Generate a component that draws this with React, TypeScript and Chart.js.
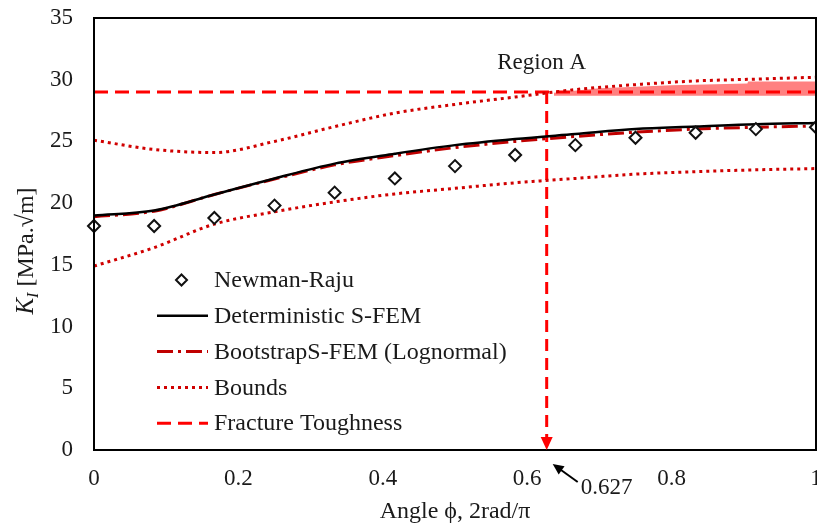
import React, { useEffect, useRef } from "react";
import { Chart, registerables } from "chart.js";

Chart.register(...registerables);

// ---- data ----
const angles = [0, 0.0833, 0.1667, 0.25, 0.3333, 0.4167, 0.5, 0.5833, 0.6667, 0.75, 0.8333, 0.9167, 1];
const newmanRaju = [18.15, 18.15, 18.8, 19.8, 20.85, 22.0, 23.0, 23.9, 24.7, 25.3, 25.7, 26.0, 26.15];
const deterministic = [19.0, 19.4, 20.7, 22.0, 23.2, 24.0, 24.7, 25.2, 25.6, 26.0, 26.2, 26.4, 26.5];
const bootstrap = [18.9, 19.35, 20.7, 21.95, 23.1, 23.85, 24.5, 25.0, 25.4, 25.75, 26.0, 26.15, 26.25];
const upperBound = [25.1, 24.35, 24.1, 25.0, 26.2, 27.3, 28.0, 28.6, 29.2, 29.6, 29.9, 30.05, 30.2];
const lowerBound = [14.9, 16.4, 18.3, 19.3, 20.1, 20.75, 21.2, 21.65, 22.0, 22.35, 22.55, 22.7, 22.8];
const toughnessX = [0, 1];
const toughness = [29, 29];
const criticalAngle = 0.627;
const criticalLine = [29, 0];
const shadeX = [0.637, 0.7, 0.8, 0.905, 0.906, 1];
const shadeTop = [28.95, 29.3, 29.55, 29.7, 29.85, 29.85];
const shadeBottom = [28.7, 28.7, 28.7, 28.7, 28.7, 28.7];
const xTicks = [0, 0.2, 0.4, 0.6, 0.8, 1];
const yTicks = [0, 5, 10, 15, 20, 25, 30, 35];
const regionLabel = "Region A";
const regionPos = { x: 0.62, y: 31.35 };

const FONT = "'Liberation Serif', 'Times New Roman', serif";
const TXT = "#1a1a1a";

const pts = (xs: number[], ys: number[]) => xs.map((x, i) => ({ x, y: ys[i] }));

const legendEntries = [
  { ds: 0, label: "Newman-Raju" },
  { ds: 1, label: "Deterministic S-FEM" },
  { ds: 2, label: "BootstrapS-FEM (Lognormal)" },
  { ds: 3, label: "Bounds" },
  { ds: 5, label: "Fracture Toughness" },
];

const overlayPlugin = {
  id: "overlay",
  afterDatasetsDraw(chart: any) {
    const { ctx, chartArea, scales } = chart;
    const xs = scales.x;
    const ys = scales.y;
    ctx.save();
    // frame
    ctx.strokeStyle = "#000";
    ctx.lineWidth = 2;
    ctx.setLineDash([]);
    ctx.strokeRect(chartArea.left, chartArea.top, chartArea.right - chartArea.left, chartArea.bottom - chartArea.top);

    // arrowhead at critical angle
    const px = xs.getPixelForValue(criticalAngle);
    const py = ys.getPixelForValue(0);
    ctx.fillStyle = "#ff0000";
    ctx.beginPath();
    ctx.moveTo(px, py);
    ctx.lineTo(px - 6, py - 13);
    ctx.lineTo(px + 6, py - 13);
    ctx.closePath();
    ctx.fill();

    // black arrow + label 0.627
    ctx.strokeStyle = "#000";
    ctx.fillStyle = "#000";
    ctx.lineWidth = 2;
    const tipX = px + 6, tipY = py + 14;
    const tailX = px + 31, tailY = py + 32;
    const ang = Math.atan2(tipY - tailY, tipX - tailX);
    ctx.beginPath();
    ctx.moveTo(tailX, tailY);
    ctx.lineTo(tipX - 6 * Math.cos(ang), tipY - 6 * Math.sin(ang));
    ctx.stroke();
    ctx.beginPath();
    ctx.moveTo(tipX, tipY);
    ctx.lineTo(tipX - 11 * Math.cos(ang) + 5 * Math.sin(ang), tipY - 11 * Math.sin(ang) - 5 * Math.cos(ang));
    ctx.lineTo(tipX - 11 * Math.cos(ang) - 5 * Math.sin(ang), tipY - 11 * Math.sin(ang) + 5 * Math.cos(ang));
    ctx.closePath();
    ctx.fill();
    ctx.fillStyle = TXT;
    ctx.font = `23px ${FONT}`;
    ctx.textAlign = "left";
    ctx.textBaseline = "middle";
    ctx.fillText(String(criticalAngle), px + 34, py + 38);

    // Region A
    ctx.textAlign = "center";
    ctx.fillText(regionLabel, xs.getPixelForValue(regionPos.x), ys.getPixelForValue(regionPos.y));

    // legend
    const ds = chart.data.datasets;
    const x0 = 157, x1 = 208, tx = 214;
    let y = 280;
    ctx.font = `24px ${FONT}`;
    ctx.textAlign = "left";
    ctx.textBaseline = "middle";
    for (const e of legendEntries) {
      const d = ds[e.ds];
      if (e.ds === 0) {
        const cx = (x0 + x1) / 2 - 1;
        ctx.strokeStyle = d.pointBorderColor;
        ctx.fillStyle = "#fff";
        ctx.lineWidth = 2;
        ctx.setLineDash([]);
        const r = 5.5;
        ctx.beginPath();
        ctx.moveTo(cx, y - r);
        ctx.lineTo(cx + r, y);
        ctx.lineTo(cx, y + r);
        ctx.lineTo(cx - r, y);
        ctx.closePath();
        ctx.fill();
        ctx.stroke();
      } else {
        ctx.strokeStyle = d.borderColor;
        ctx.lineWidth = d.borderWidth;
        ctx.setLineDash(d.borderDash || []);
        ctx.lineCap = "butt";
        ctx.beginPath();
        ctx.moveTo(x0, y);
        ctx.lineTo(x1, y);
        ctx.stroke();
      }
      ctx.setLineDash([]);
      ctx.fillStyle = TXT;
      ctx.fillText(e.label, tx, y + 1);
      y += 35.8;
    }

    // y-axis title
    ctx.save();
    ctx.translate(25, 251);
    ctx.rotate(-Math.PI / 2);
    const kFont = `italic 25px ${FONT}`;
    const iFont = `italic 16px ${FONT}`;
    const rFont = `24px ${FONT}`;
    const rest = " [MPa.\u221Am]";
    ctx.font = kFont; const wK = ctx.measureText("K").width;
    ctx.font = iFont; const wI = ctx.measureText("I").width;
    ctx.font = rFont; const wR = ctx.measureText(rest).width;
    let sx = -(wK + wI + wR) / 2;
    ctx.textAlign = "left";
    ctx.textBaseline = "alphabetic";
    ctx.fillStyle = TXT;
    ctx.font = kFont; ctx.fillText("K", sx, 8); sx += wK;
    ctx.font = iFont; ctx.fillText("I", sx, 13); sx += wI;
    ctx.font = rFont; ctx.fillText(rest, sx, 8);
    ctx.restore();

    // x-axis title
    ctx.font = `24px ${FONT}`;
    ctx.textAlign = "center";
    ctx.textBaseline = "middle";
    ctx.fillStyle = TXT;
    ctx.fillText("Angle \u03D5, 2rad/\u03C0", 455, 512);

    ctx.restore();
  },
};

export default function App() {
  const ref = useRef<HTMLCanvasElement | null>(null);
  useEffect(() => {
    document.body.style.margin = "0";
    document.body.style.overflow = "hidden";
    const canvas = ref.current!;
    const chart = new Chart(canvas, {
      type: "line",
      data: {
        datasets: [
          {
            label: "Newman-Raju",
            data: pts(angles, newmanRaju),
            showLine: false,
            pointStyle: "rectRot",
            pointRadius: 6,
            pointBorderWidth: 2,
            pointBorderColor: "#111",
            pointBackgroundColor: "#fff",
            borderColor: "#111",
            clip: false,
          } as any,
          {
            label: "Deterministic S-FEM",
            data: pts(angles, deterministic),
            borderColor: "#000",
            borderWidth: 2.5,
            pointRadius: 0,
            cubicInterpolationMode: "monotone",
          },
          {
            label: "BootstrapS-FEM (Lognormal)",
            data: pts(angles, bootstrap),
            borderColor: "#c00000",
            borderWidth: 3,
            borderDash: [16, 5, 3, 5],
            pointRadius: 0,
            cubicInterpolationMode: "monotone",
          },
          {
            label: "Bounds",
            data: pts(angles, upperBound),
            borderColor: "#d00000",
            borderWidth: 3,
            borderDash: [3, 4],
            pointRadius: 0,
            cubicInterpolationMode: "monotone",
          },
          {
            label: "Bounds (lower)",
            data: pts(angles, lowerBound),
            borderColor: "#d00000",
            borderWidth: 3,
            borderDash: [3, 4],
            pointRadius: 0,
            cubicInterpolationMode: "monotone",
          },
          {
            label: "Fracture Toughness",
            data: pts(toughnessX, toughness),
            borderColor: "#ff0000",
            borderWidth: 3,
            borderDash: [14, 7],
            pointRadius: 0,
          },
          {
            label: "critical",
            data: criticalLine.map((y) => ({ x: criticalAngle, y })),
            borderColor: "#ff0000",
            borderWidth: 3,
            borderDash: [12, 7],
            pointRadius: 0,
          },
          {
            label: "Region A top",
            data: pts(shadeX, shadeTop),
            borderWidth: 0,
            borderColor: "rgba(0,0,0,0)",
            backgroundColor: "#ff8080",
            pointRadius: 0,
            fill: "+1",
          },
          {
            label: "Region A bottom",
            data: pts(shadeX, shadeBottom),
            borderWidth: 0,
            borderColor: "rgba(0,0,0,0)",
            pointRadius: 0,
          },
        ],
      },
      options: {
        responsive: false,
        animation: false,
        layout: { padding: { left: 0, right: 14, top: 18, bottom: 0 } },
        plugins: {
          legend: { display: false },
          tooltip: { enabled: false },
          title: { display: false },
        },
        scales: {
          x: {
            type: "linear",
            min: 0,
            max: 1,
            grid: { display: false, drawTicks: false },
            border: { display: false },
            afterBuildTicks: (s: any) => {
              s.ticks = xTicks.map((v) => ({ value: v }));
            },
            afterFit: (s: any) => {
              s.height = 77;
              s.paddingLeft = 0;
              s.paddingRight = 0;
            },
            ticks: {
              padding: 15,
              color: TXT,
              font: { family: FONT, size: 23 },
              maxRotation: 0,
              callback: (v: any) => String(v),
            },
          },
          y: {
            type: "linear",
            min: 0,
            max: 35,
            grid: { display: false, drawTicks: false },
            border: { display: false },
            afterBuildTicks: (s: any) => {
              s.ticks = yTicks.map((v) => ({ value: v }));
            },
            afterFit: (s: any) => {
              s.width = 94;
              s.paddingTop = 0;
              s.paddingBottom = 0;
            },
            ticks: {
              padding: 21,
              color: TXT,
              font: { family: FONT, size: 23 },
              callback: (v: any) => String(v),
            },
          },
        },
      },
      plugins: [overlayPlugin],
    });
    return () => chart.destroy();
  }, []);
  return (
    <div style={{ width: 817, height: 527, overflow: "hidden", background: "#fff" }}>
      <canvas ref={ref} width={830} height={527} style={{ display: "block" }} />
    </div>
  );
}
